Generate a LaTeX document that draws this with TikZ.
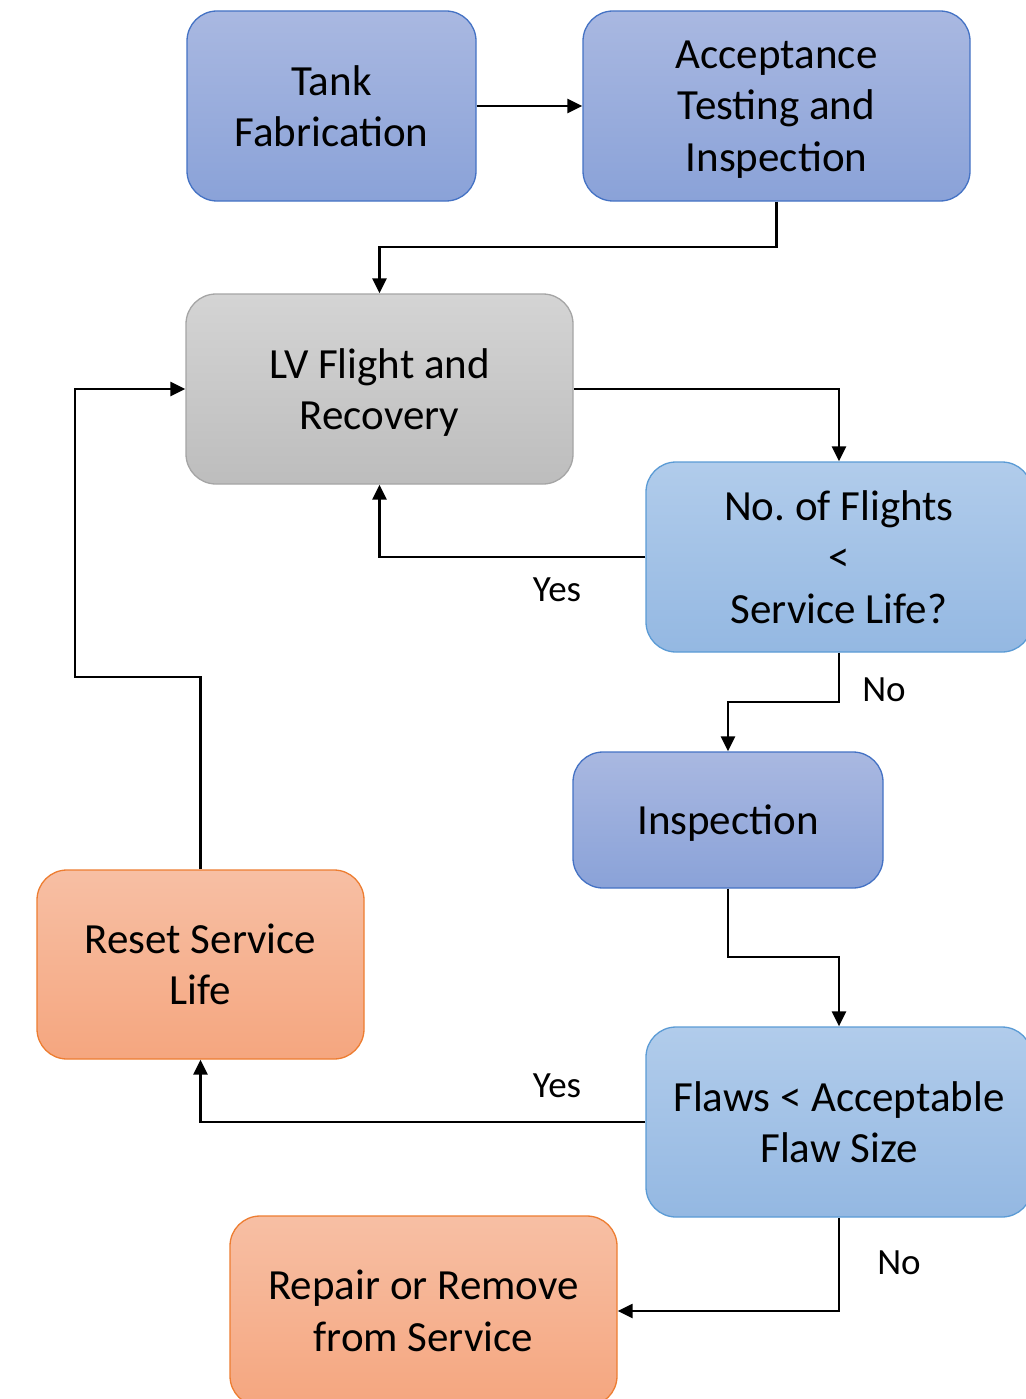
\documentclass[tikz,border=0pt]{standalone}
\usepackage{fontspec}
\setmainfont{Carlito}
\usetikzlibrary{arrows.meta}
\frenchspacing
\definecolor{procTop}{HTML}{A9B8E1}
\definecolor{procBot}{HTML}{8AA2D8}
\definecolor{procLine}{HTML}{4472C4}
\definecolor{decTop}{HTML}{B1CCEB}
\definecolor{decBot}{HTML}{94B8E2}
\definecolor{decLine}{HTML}{5B9BD5}
\definecolor{grayTop}{HTML}{D4D4D4}
\definecolor{grayBot}{HTML}{BDBDBD}
\definecolor{grayLine}{HTML}{A5A5A5}
\definecolor{oraTop}{HTML}{F7BFA4}
\definecolor{oraBot}{HTML}{F5A67F}
\definecolor{oraLine}{HTML}{ED7D31}
% last line without descender depth, so text centres on its baseline block
\newcommand{\flatline}[1]{\raisebox{0pt}[\height][0pt]{#1}}
\begin{document}
\begin{tikzpicture}[x=1pt,y=-1pt,
  every node/.style={font=\fontsize{43}{51.5}\selectfont},
  box/.style={rectangle,rounded corners=30pt,line width=1.3pt,align=center,inner sep=0pt},
  proc/.style={box,draw=procLine,top color=procTop,bottom color=procBot},
  dec/.style={box,draw=decLine,top color=decTop,bottom color=decBot},
  grey/.style={box,draw=grayLine,top color=grayTop,bottom color=grayBot},
  ora/.style={box,draw=oraLine,top color=oraTop,bottom color=oraBot},
  arr/.style={line width=2.4pt,-{Triangle[length=15pt,width=14pt]}},
  lbl/.style={font=\fontsize{37}{44}\selectfont}]
\useasboundingbox (0,0) rectangle (1025,1399);

% process steps
\node[proc,minimum width=289pt,minimum height=190pt] (tank) at (331.5,106) {Tank\\Fabrication};
\node[proc,minimum width=387pt,minimum height=190pt] (acc) at (776.5,106) {Acceptance\\Testing and\\\flatline{Inspection}};
\node[grey,minimum width=387pt,minimum height=190pt] (lv) at (379.5,389) {LV Flight and\\\flatline{Recovery}};
\node[dec,minimum width=386pt,minimum height=190pt] (nof) at (839,557) {No. of Flights\\<\\Service Life?};
\node[proc,minimum width=310pt,minimum height=136pt] (insp) at (728,820) {\flatline{Inspection}};
\node[dec,minimum width=386pt,minimum height=190pt] (flaw) at (839,1122) {Flaws < Acceptable\\Flaw Size};
\node[ora,minimum width=327pt,minimum height=189pt] (reset) at (200.5,964.5) {Reset Service\\Life};
\node[ora,minimum width=387pt,minimum height=190pt] (rep) at (423.5,1311) {Repair or Remove\\from Service};

% bend levels
\coordinate (kA) at (0,247);
\coordinate (kB) at (0,702);
\coordinate (kC) at (0,957);
\coordinate (kL) at (75,677);

% connectors
\draw[arr] (tank.east) -- (acc.west);
\draw[arr] (acc.south) -- (acc.south |- kA) -| (lv.north);
\draw[arr] (lv.east) -| (nof.north);
\draw[arr] (nof.west) -| (lv.south);
\draw[arr] (nof.south) -- (nof.south |- kB) -| (insp.north);
\draw[arr] (insp.south) -- (insp.south |- kC) -| (flaw.north);
\draw[arr] (flaw.west) -| (reset.south);
\draw[arr] (flaw.south) |- (rep.east);
\draw[arr] (reset.north) |- (kL) |- (lv.west);

% branch labels
\node[lbl] (y1) at (557,590) {Yes};
\node[lbl] (n1) at (884,690) {No};
\node[lbl] (y2) at (557,1086) {Yes};
\node[lbl] (n2) at (899,1263) {No};
\end{tikzpicture}
\end{document}
